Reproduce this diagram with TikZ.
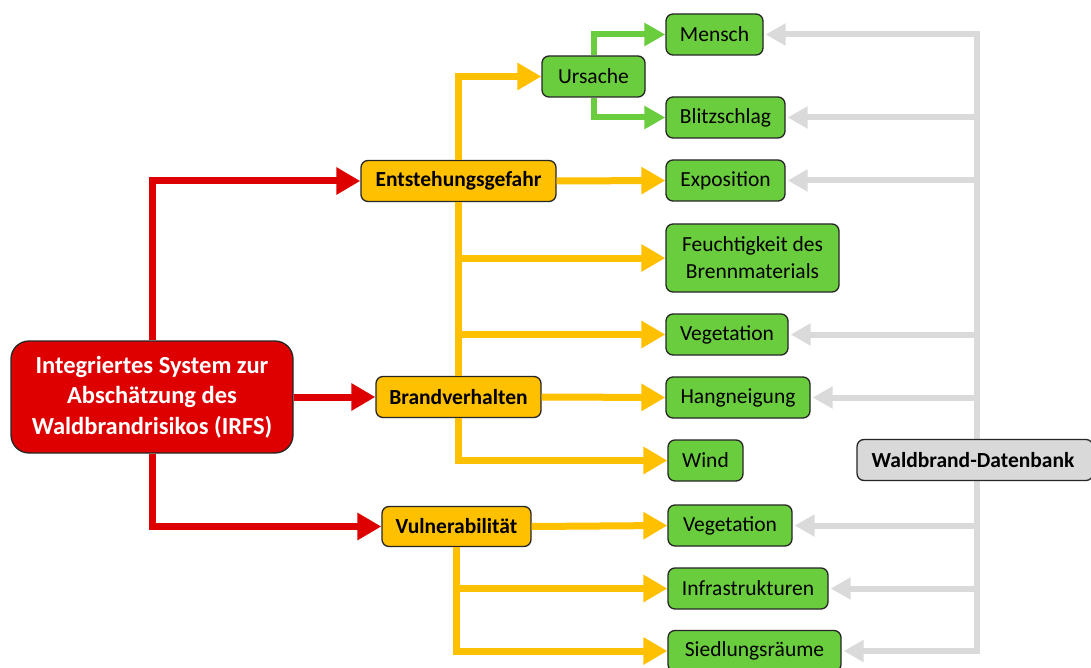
\documentclass[tikz,border=0pt]{standalone}
\usepackage{fontspec}
\setmainfont{Carlito}
\usetikzlibrary{arrows.meta}
\definecolor{cred}{HTML}{DE0000}
\definecolor{cyel}{HTML}{FFC000}
\definecolor{cgreen}{HTML}{6ACD3E}
\definecolor{cgray}{HTML}{D9D9D9}
\definecolor{cline}{HTML}{DADADA}
\begin{document}
\begin{tikzpicture}[x=1pt,y=-1pt,
  box/.style={draw=black!85, line width=1.3pt, rounded corners=7pt, align=center, inner sep=0pt, font=\fontsize{21.5}{27}\selectfont},
  gbox/.style={box, fill=cgreen},
  ybox/.style={box, fill=cyel, font=\fontsize{21.5}{27}\selectfont\bfseries},
  graybox/.style={box, fill=cgray, font=\fontsize{21.5}{27}\selectfont\bfseries},
  rbox/.style={box, fill=cred, text=white, rounded corners=18pt, font=\fontsize{24.5}{30.5}\selectfont\bfseries},
  rar/.style={draw=cred, line width=7pt, -{Triangle[length=24pt,width=26pt]}},
  yar/.style={draw=cyel, line width=7pt, -{Triangle[length=24pt,width=26pt]}},
  yline/.style={draw=cyel, line width=7pt},
  gar/.style={draw=cgreen, line width=6pt, -{Triangle[length=21pt,width=22pt]}},
  grar/.style={draw=cline, line width=6pt, -{Triangle[length=20pt,width=21pt]}},
  grline/.style={draw=cline, line width=6pt, line cap=rect},
]
\useasboundingbox[fill=white] (0,0) rectangle (1091,668);

% nodes
\node[rbox, minimum width=282pt, minimum height=112pt] (irfs) at (152,397) {Integriertes System zur\\Abschätzung des\\Waldbrandrisikos (IRFS)};
\node[ybox, minimum width=195pt, minimum height=41pt] (ent) at (458.5,181) {Entstehungsgefahr};
\node[ybox, minimum width=165pt, minimum height=41pt] (bra) at (458.5,397) {Brandverhalten};
\node[ybox, minimum width=149pt, minimum height=40pt] (vul) at (456.5,526.5) {Vulnerabilität};

\node[gbox, minimum width=103pt, minimum height=41pt] (urs) at (593.5,76.5) {Ursache};
\node[gbox, minimum width=97pt, minimum height=41pt] (mensch) at (714.5,34.5) {Mensch};
\node[gbox, minimum width=119pt, minimum height=41pt] (blitz) at (725.5,117.5) {Blitzschlag};
\node[gbox, minimum width=119pt, minimum height=41pt] (expo) at (725.5,180.5) {Exposition};
\node[gbox, minimum width=173pt, minimum height=68pt] (feu) at (752.5,258) {Feuchtigkeit des\\Brennmaterials};
\node[gbox, minimum width=122pt, minimum height=41pt] (veg1) at (727,334.5) {Vegetation};
\node[gbox, minimum width=144pt, minimum height=41pt] (hang) at (738,397.5) {Hangneigung};
\node[gbox, minimum width=75pt, minimum height=41pt] (wind) at (705.5,460.5) {Wind};
\node[gbox, minimum width=124pt, minimum height=41pt] (veg2) at (730,525.5) {Vegetation};
\node[gbox, minimum width=160pt, minimum height=41pt] (infra) at (748,588.5) {Infrastrukturen};
\node[gbox, minimum width=173pt, minimum height=41pt] (sied) at (754.5,651) {Siedlungsräume};

\coordinate (dbx) at (977,0);

% gray connectors
\draw[grline] (dbx |- mensch.east) -- (dbx |- sied.east);
\foreach \n in {mensch,blitz,expo,veg1,hang,veg2,infra,sied}
  \draw[grar] (dbx |- \n.east) -- ([xshift=2pt]\n.east);

\node[graybox, minimum width=236pt, minimum height=41pt] (db) at (975,460) {\hspace*{-4pt}Waldbrand-Datenbank};

% red connectors
\draw[rar] (irfs.north) |- (ent.west);
\draw[rar] (irfs.east) -- (bra.west);
\draw[rar] (irfs.south) |- (vul.west);

% yellow connectors
\draw[yar] (ent.north) |- (urs.west);
\draw[yar] (ent.east) -- (expo.west);
\draw[yline] (ent.south) -- (bra.north);
\draw[yar] (ent.south |- feu.west) -- (feu.west);
\draw[yar] (ent.south |- veg1.west) -- (veg1.west);
\draw[yar] (bra.east) -- (hang.west);
\draw[yar] (bra.south) |- (wind.west);
\draw[yar] (vul.east) -- (veg2.west);
\draw[yar] (vul.south |- infra.west) -- (infra.west);
\draw[yar] (vul.south) |- (sied.west);

% green connectors
\draw[gar] (urs.north) |- (mensch.west);
\draw[gar] (urs.south) |- (blitz.west);
\end{tikzpicture}
\end{document}
